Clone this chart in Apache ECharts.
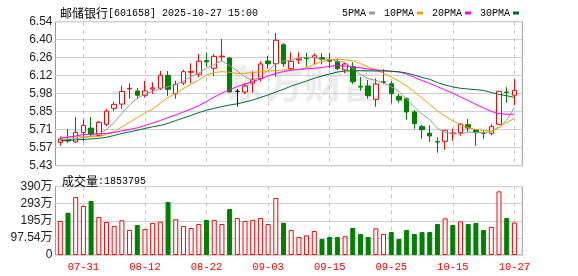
<!DOCTYPE html>
<html><head><meta charset="utf-8">
<script src="https://cdn.jsdelivr.net/npm/echarts@6/dist/echarts.min.js"></script>
<style>html,body{margin:0;padding:0;background:#fff}#c{width:578px;height:276px}</style>
</head><body><div id="c"></div>
<script>
const dates = ['07-28','07-29','07-30','07-31','08-01','08-04','08-05','08-06','08-07','08-08','08-11','08-12','08-13','08-14','08-15','08-18','08-19','08-20','08-21','08-22','08-25','08-26','08-27','08-28','08-29','09-01','09-02','09-03','09-04','09-05','09-08','09-09','09-10','09-11','09-12','09-15','09-16','09-17','09-18','09-19','09-22','09-23','09-24','09-25','09-26','09-29','09-30','10-09','10-10','10-13','10-14','10-15','10-16','10-17','10-20','10-21','10-22','10-23','10-24','10-27'];
const opens  = [5.610,5.633,5.613,5.687,5.720,5.664,5.749,5.872,5.905,6.022,6.006,5.973,6.020,6.027,6.127,5.985,6.067,6.150,6.135,6.240,6.181,6.270,6.260,6.003,5.998,6.067,6.101,6.237,6.216,6.363,6.178,6.245,6.262,6.263,6.263,6.250,6.232,6.168,6.193,6.042,6.044,5.942,6.077,6.062,5.965,5.946,5.844,5.733,5.680,5.615,5.618,5.677,5.684,5.746,5.705,5.684,5.680,5.749,5.998,5.973];
const closes = [5.636,5.620,5.687,5.741,5.672,5.764,5.851,5.903,6.003,6.027,5.973,6.006,6.030,6.127,6.019,6.057,6.155,6.156,6.235,6.230,6.273,6.275,5.998,6.003,6.044,6.096,6.214,6.216,6.397,6.216,6.235,6.253,6.256,6.278,6.250,6.235,6.178,6.214,6.077,6.036,5.969,6.060,6.073,5.985,5.936,5.844,5.754,5.707,5.659,5.612,5.703,5.682,5.749,5.720,5.684,5.681,5.731,6.003,5.995,6.011];
const lows   = [5.584,5.607,5.607,5.618,5.653,5.659,5.736,5.851,5.869,5.949,5.946,5.957,5.983,6.013,5.967,5.946,6.052,6.065,6.111,6.193,6.121,6.237,5.998,5.888,5.983,5.993,6.080,6.178,6.116,6.193,6.168,6.214,6.193,6.208,6.211,6.181,6.168,6.142,6.060,6.008,5.946,5.885,6.057,5.911,5.915,5.784,5.715,5.638,5.612,5.530,5.553,5.622,5.661,5.692,5.582,5.638,5.664,5.749,5.915,5.898];
const highs  = [5.656,5.713,5.805,5.788,5.805,5.774,5.867,5.923,6.047,6.065,6.029,6.083,6.073,6.160,6.160,6.085,6.170,6.219,6.291,6.304,6.291,6.407,6.265,6.021,6.065,6.158,6.235,6.276,6.453,6.374,6.304,6.304,6.299,6.296,6.296,6.299,6.258,6.224,6.227,6.114,6.090,6.104,6.173,6.083,5.983,5.957,5.859,5.744,5.741,5.649,5.703,5.715,5.757,5.790,5.705,5.700,5.749,6.003,6.036,6.098];
const volumes = [194,241,331,280,308,217,188,165,198,143,171,148,183,190,302,204,165,154,177,200,200,177,262,211,194,200,211,177,325,184,143,103,112,137,91,103,103,107,154,120,103,152,120,131,91,143,120,131,131,177,209,171,192,177,183,143,160,363,211,185.3795];
const ma5  = [5.632,5.633,5.639,5.647,5.655,5.674,5.709,5.763,5.832,5.898,5.948,5.983,6.002,6.025,6.039,6.054,6.083,6.117,6.144,6.181,6.210,6.237,6.202,6.160,6.116,6.087,6.117,6.164,6.215,6.237,6.241,6.264,6.266,6.264,6.250,6.250,6.237,6.225,6.179,6.133,6.102,6.087,6.067,6.039,6.002,5.944,5.882,5.828,5.786,5.718,5.686,5.676,5.674,5.690,5.686,5.685,5.692,5.726,5.782,5.880];
const ma10 = [5.649,5.651,5.653,5.654,5.653,5.655,5.671,5.694,5.728,5.764,5.801,5.836,5.867,5.913,5.956,5.986,6.025,6.060,6.090,6.129,6.148,6.155,6.150,6.141,6.142,6.148,6.155,6.160,6.164,6.168,6.170,6.173,6.187,6.210,6.233,6.246,6.250,6.246,6.239,6.218,6.191,6.168,6.142,6.114,6.083,6.044,6.000,5.952,5.902,5.852,5.813,5.774,5.747,5.724,5.709,5.700,5.697,5.728,5.762,5.795];
const ma20 = [5.641,5.650,5.659,5.670,5.674,5.676,5.679,5.686,5.698,5.709,5.722,5.740,5.759,5.778,5.801,5.821,5.844,5.867,5.894,5.925,5.959,5.990,6.017,6.040,6.060,6.079,6.098,6.121,6.141,6.156,6.166,6.171,6.177,6.181,6.187,6.196,6.202,6.198,6.192,6.185,6.175,6.168,6.164,6.158,6.152,6.137,6.110,6.087,6.064,6.040,6.013,5.990,5.959,5.932,5.902,5.875,5.848,5.832,5.826,5.826];
const ma30 = [5.623,5.625,5.629,5.633,5.636,5.641,5.649,5.663,5.678,5.691,5.703,5.717,5.730,5.740,5.757,5.778,5.797,5.818,5.839,5.858,5.872,5.886,5.898,5.907,5.921,5.936,5.956,5.975,5.998,6.019,6.044,6.063,6.083,6.104,6.121,6.137,6.152,6.160,6.162,6.162,6.161,6.160,6.160,6.158,6.154,6.144,6.129,6.110,6.096,6.071,6.052,6.037,6.027,6.021,6.016,6.010,5.994,5.980,5.969,5.957];
const priceTicks = ['5.43','5.57','5.71','5.85','5.98','6.12','6.26','6.40','6.54'];
const volTicks = ['0','97.54万','195万','293万','390万'];
const maNames = ['5PMA','10PMA','20PMA','30PMA'];
const titleName = '邮储银行';
const titleRest = '[601658] 2025-10-27 15:00';
const volLabel = '成交量';
const volValue = ':1853795';

const priceMin = 5.43, priceMax = 6.54, priceStep = (priceMax - priceMin) / 8;
const volMax = 390.16, volStep = volMax / 4;
const RED = '#ff0000', GREEN = '#008000';
const MONO = "'Liberation Mono', monospace";
const CJK = "'Noto Sans CJK SC', sans-serif";

const candleData = opens.map((o, i) => [o, closes[i], lows[i], highs[i]]);
const volData = volumes.map((v, i) => {
  const prev = i === 0 ? opens[0] : closes[i - 1];
  const up = closes[i] >= prev;
  return {value: v, itemStyle: up ? {color: '#fff', borderColor: RED, borderWidth: 1} : {color: GREEN, borderColor: GREEN, borderWidth: 1}};
});
const tickIdx = (i) => i % 8 === 3;
const richTxt = {
  a: {fontFamily: CJK, fontSize: 12, fontWeight: 'normal', color: '#000'},
  b: {fontFamily: MONO, fontSize: 10, fontWeight: 'normal', color: '#000'}
};

const chart = echarts.init(document.getElementById('c'), null, {renderer: 'canvas'});
const gridL = 55.5, gridW = 466.8, dataL = 60.3, dataW = 454.1;
chart.setOption({
  animation: false,
  backgroundColor: '#fff',
  title: [
    {left: 55, top: 2, text: '{a|' + titleName + '}{b|' + titleRest + '}',
     textStyle: {fontWeight: 'normal', rich: richTxt}},
    {left: 57, top: 170, text: '{a|' + volLabel + '}{b|' + volValue + '}',
     textStyle: {fontWeight: 'normal', rich: richTxt}}
  ],
  legend: {
    data: maNames, left: 337, top: 3, icon: 'rect', itemWidth: 6, itemHeight: 3, itemGap: 9, align: 'right',
    textStyle: {fontFamily: MONO, fontSize: 10, fontWeight: 'normal', color: '#000', padding: [0, -2, 0, 0]}
  },
  graphic: [
    {type: 'text', left: 226, top: 64, z: 0, silent: true,
     style: {text: '东方财富', fontFamily: CJK, fontSize: 39, fontWeight: 'bold', fill: 'rgba(200,200,208,0.35)'}}
  ],
  grid: [
    {left: gridL, top: 21.7, width: gridW, height: 144, show: true, borderColor: '#999', borderWidth: 1, backgroundColor: 'transparent'},
    {left: dataL, top: 21.7, width: dataW, height: 144},
    {left: gridL, top: 186.6, width: gridW, height: 68.4, show: true, borderColor: '#999', borderWidth: 1, backgroundColor: 'transparent'},
    {left: dataL, top: 186.6, width: dataW, height: 68.4}
  ],
  xAxis: [
    {gridIndex: 0, type: 'value', show: false, min: 0, max: 1},
    {gridIndex: 1, type: 'category', data: dates, boundaryGap: false,
     axisLine: {show: false}, axisTick: {show: false}, axisLabel: {show: false},
     splitLine: {show: true, interval: tickIdx, lineStyle: {color: '#c8c8c8', type: [4, 4], width: 1}}},
    {gridIndex: 2, type: 'value', show: false, min: 0, max: 1},
    {gridIndex: 3, type: 'category', data: dates, boundaryGap: false,
     axisLine: {show: false}, axisTick: {show: false},
     axisLabel: {show: true, interval: tickIdx, color: RED, fontFamily: MONO, fontSize: 10.5, margin: 7},
     splitLine: {show: true, interval: tickIdx, lineStyle: {color: '#c8c8c8', type: [4, 4], width: 1}}}
  ],
  yAxis: [
    {gridIndex: 0, type: 'value', min: priceMin, max: priceMax, interval: priceStep,
     axisLine: {show: false}, axisTick: {show: false},
     axisLabel: {color: '#222', fontFamily: "'Liberation Sans', Arial, sans-serif", fontSize: 12, margin: 3,
       formatter: (v) => priceTicks[Math.round((v - priceMin) / priceStep)]},
     splitLine: {show: true, lineStyle: {color: '#d0d0d0', width: 1}}},
    {gridIndex: 1, type: 'value', min: priceMin, max: priceMax, show: false, splitLine: {show: false}},
    {gridIndex: 2, type: 'value', min: 0, max: volMax, interval: volStep,
     axisLine: {show: false}, axisTick: {show: false},
     axisLabel: {color: '#222', fontFamily: "'Liberation Sans', Arial, 'Noto Sans CJK SC', sans-serif", fontSize: 12, margin: 3,
       formatter: (v) => volTicks[Math.round(v / volStep)]},
     splitLine: {show: true, lineStyle: {color: '#d0d0d0', width: 1}}},
    {gridIndex: 3, type: 'value', min: 0, max: volMax, show: false, splitLine: {show: false}}
  ],
  series: [
    {type: 'candlestick', name: 'K', xAxisIndex: 1, yAxisIndex: 1, data: candleData, barWidth: 5, z: 3,
     itemStyle: {color: '#fff', color0: GREEN, borderColor: RED, borderColor0: GREEN, borderColorDoji: '#000', borderWidth: 1}},
    {type: 'line', name: maNames[0], xAxisIndex: 1, yAxisIndex: 1, data: ma5, symbol: 'none', z: 4,
     color: '#9a9a9a', lineStyle: {width: 1, color: '#9a9a9a'}},
    {type: 'line', name: maNames[1], xAxisIndex: 1, yAxisIndex: 1, data: ma10, symbol: 'none', z: 4,
     color: '#f5a000', lineStyle: {width: 1, color: '#f5a000'}},
    {type: 'line', name: maNames[2], xAxisIndex: 1, yAxisIndex: 1, data: ma20, symbol: 'none', z: 4,
     color: '#ff00ff', lineStyle: {width: 1, color: '#ff00ff'}},
    {type: 'line', name: maNames[3], xAxisIndex: 1, yAxisIndex: 1, data: ma30, symbol: 'none', z: 4,
     color: '#006b30', lineStyle: {width: 1, color: '#006b30'}},
    {type: 'bar', name: 'VOL', xAxisIndex: 3, yAxisIndex: 3, data: volData, barWidth: 5}
  ]
});
</script></body></html>
